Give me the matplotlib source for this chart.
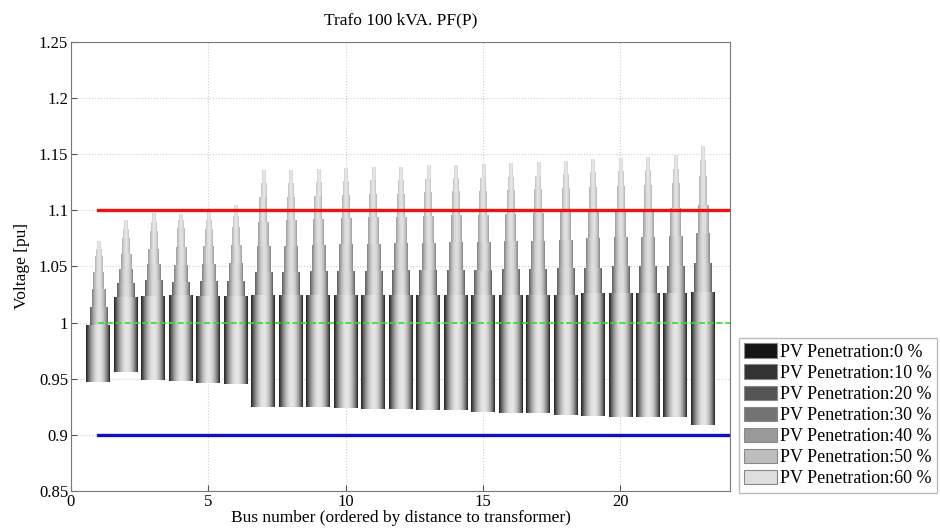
import numpy as np
import matplotlib
matplotlib.use("Agg")
import matplotlib.pyplot as plt
from matplotlib.patches import Patch

plt.rcParams['font.family'] = ['Liberation Serif', 'DejaVu Serif']

# bus index (ordered by distance to transformer)
bus = np.arange(1, 24)

# minimum voltage seen at each bus
v_min = [0.947, 0.956, 0.949, 0.948, 0.946, 0.945, 0.925, 0.925, 0.9245, 0.924,
         0.923, 0.923, 0.922, 0.922, 0.920, 0.919, 0.919, 0.9175, 0.9165, 0.916,
         0.9155, 0.9155, 0.909]

# maximum voltage for each PV penetration level
v_pv0 = [0.998, 1.023, 1.024, 1.0245, 1.024, 1.024, 1.025, 1.025, 1.025, 1.025,
         1.025, 1.025, 1.025, 1.025, 1.025, 1.025, 1.025, 1.025, 1.026, 1.026,
         1.026, 1.026, 1.027]
v_pv10 = [1.014, 1.035, 1.038, 1.036, 1.037, 1.037, 1.045, 1.045, 1.046, 1.046,
          1.046, 1.047, 1.047, 1.047, 1.047, 1.048, 1.048, 1.049, 1.049, 1.050,
          1.050, 1.050, 1.053]
v_pv20 = [1.030, 1.048, 1.052, 1.051, 1.052, 1.053, 1.068, 1.068, 1.069, 1.070,
          1.070, 1.071, 1.071, 1.072, 1.072, 1.073, 1.073, 1.074, 1.075, 1.076,
          1.076, 1.077, 1.080]
v_pv30 = [1.045, 1.061, 1.066, 1.067, 1.068, 1.069, 1.090, 1.091, 1.092, 1.093,
          1.094, 1.094, 1.095, 1.096, 1.096, 1.097, 1.098, 1.099, 1.100, 1.101,
          1.101, 1.102, 1.105]
v_pv40 = [1.059, 1.075, 1.082, 1.084, 1.083, 1.085, 1.112, 1.112, 1.113, 1.114,
          1.115, 1.115, 1.116, 1.117, 1.117, 1.118, 1.119, 1.120, 1.121, 1.122,
          1.123, 1.124, 1.131]
v_pv50 = [1.066, 1.083, 1.090, 1.091, 1.091, 1.095, 1.124, 1.124, 1.125, 1.126,
          1.127, 1.127, 1.128, 1.129, 1.129, 1.130, 1.131, 1.132, 1.134, 1.135,
          1.136, 1.137, 1.145]
v_pv60 = [1.073, 1.091, 1.098, 1.097, 1.099, 1.105, 1.136, 1.136, 1.137, 1.138,
          1.139, 1.139, 1.140, 1.140, 1.141, 1.142, 1.143, 1.144, 1.146, 1.147,
          1.148, 1.149, 1.157]

levels = ['0', '10', '20', '30', '40', '50', '60']
v_max = [v_pv0, v_pv10, v_pv20, v_pv30, v_pv40, v_pv50, v_pv60]

widths = [0.87, 0.63, 0.48, 0.37, 0.28, 0.2, 0.11]
shade_lo = [0.12, 0.35, 0.50, 0.60, 0.68, 0.75, 0.80]
shade_hi = [0.90, 0.87, 0.87, 0.88, 0.89, 0.90, 0.91]
legend_grey = [0.08, 0.2, 0.33, 0.45, 0.6, 0.74, 0.87]

fig = plt.figure(figsize=(9.4, 5.29), dpi=100)
ax = fig.add_axes([0.0755, 0.072, 0.7015, 0.8485])

t = np.linspace(0, 1, 64)
profile = np.sin(np.pi * t ** 1.1) ** 0.8

bottom = np.array(v_min)
for k in range(len(levels)):
    top = np.array(v_max[k])
    bars = ax.bar(bus, top - bottom, bottom=bottom, width=widths[k],
                  color=str(legend_grey[k]), linewidth=0, zorder=2)
    grad = (shade_lo[k] + (shade_hi[k] - shade_lo[k]) * profile)[None, :]
    for b in bars:
        x0, y0 = b.get_x(), b.get_y()
        im = ax.imshow(grad, cmap='gray', vmin=0, vmax=1, aspect='auto',
                       interpolation='bilinear', zorder=2.5,
                       extent=(x0, x0 + b.get_width(), y0, y0 + b.get_height()))
        im.set_clip_path(b)
    bottom = top

# voltage limits
ax.plot([1, 24], [1.1, 1.1], color='#ee1111', lw=2.4, zorder=4)
ax.plot([1, 24], [0.9, 0.9], color='#1010c0', lw=2.4, zorder=4)
ax.plot([1, 24], [1.0, 1.0], color='#33dd33', lw=1.2, ls='--', zorder=4)

ax.set_xlim(0, 24)
ax.set_ylim(0.85, 1.25)
ax.set_xticks([0, 5, 10, 15, 20])
ax.set_yticks(np.arange(0.85, 1.2501, 0.05))
ax.set_yticklabels(['0.85', '0.9', '0.95', '1', '1.05', '1.1', '1.15', '1.2', '1.25'])
ax.tick_params(direction='in', labelsize=12, length=4, color='#555555', pad=2)
ax.grid(True, ls=':', color='#cccccc', lw=0.8, zorder=0)
ax.set_axisbelow(True)
for s in ax.spines.values():
    s.set_color('#777777')
    s.set_linewidth(0.8)

ax.set_title('Trafo 100 kVA. PF(P)', fontsize=12.5, pad=13)
ax.set_xlabel('Bus number (ordered by distance to transformer)', fontsize=12.5, labelpad=0)
ax.set_ylabel('Voltage [pu]', fontsize=12.5, labelpad=6)

handles = [Patch(facecolor=str(g), edgecolor='#888888', lw=0.8) for g in legend_grey]
labels = ['PV Penetration:' + p + ' %' for p in levels]
fig.legend(handles, labels, loc='upper left', bbox_to_anchor=(739 / 940, 1 - 338 / 529),
           fontsize=13, frameon=True, fancybox=False, edgecolor='#aaaaaa',
           handlelength=1.8, handleheight=0.85, handletextpad=0.15,
           labelspacing=0.2, borderpad=0.3, borderaxespad=0)

fig.savefig('out.png', dpi=100)
